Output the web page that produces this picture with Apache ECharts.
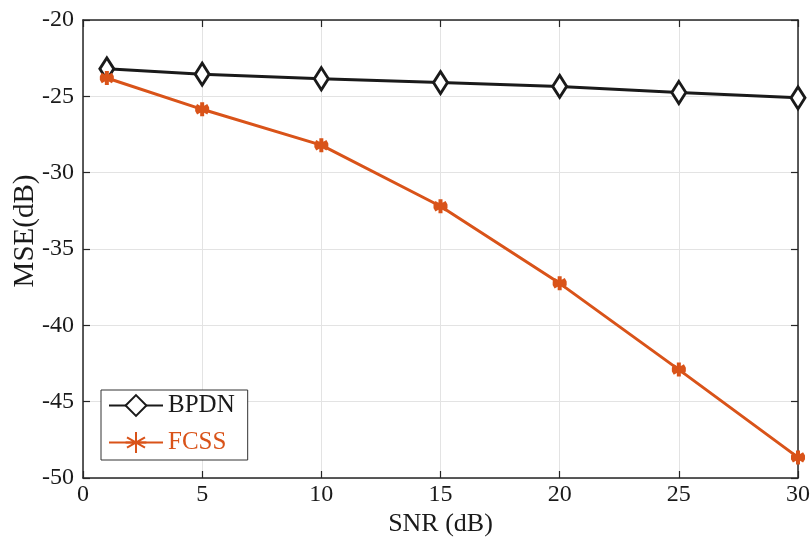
<!DOCTYPE html>
<html>
<head>
<meta charset="utf-8">
<script src="https://cdn.jsdelivr.net/npm/echarts@6/dist/echarts.min.js"></script>
<style>html,body{margin:0;padding:0;background:#fff;}#c{width:812px;height:543px;}</style>
</head>
<body>
<div id="c"></div>
<script>
const snr = [1, 5, 10, 15, 20, 25, 30];
const bpdn = [-23.2, -23.55, -23.85, -24.1, -24.35, -24.75, -25.1];
const fcss = [-23.8, -25.85, -28.2, -32.2, -37.25, -42.9, -48.65];
const xTicks = [0, 5, 10, 15, 20, 25, 30];
const yTicks = [-50, -45, -40, -35, -30, -25, -20];

const font = '"Liberation Serif", "Times New Roman", serif';
const axisCol = '#262626';
const asterisk = 'path://M0,-10L0,10M-8.66,-5L8.66,5M-8.66,5L8.66,-5M-10,0L10,0';

const chart = echarts.init(document.getElementById('c'), null, {renderer: 'canvas'});
const baseX = {
  type: 'value', min: xTicks[0], max: xTicks[xTicks.length - 1], interval: 5,
  axisLine: {show: true, onZero: false, lineStyle: {color: axisCol, width: 1.5}},
  axisTick: {show: true, inside: true, length: 7, lineStyle: {color: axisCol, width: 1.2}},
  splitLine: {show: false}
};
const baseY = {
  type: 'value', min: yTicks[0], max: yTicks[yTicks.length - 1], interval: 5,
  axisLine: {show: true, onZero: false, lineStyle: {color: axisCol, width: 1.5}},
  axisTick: {show: true, inside: true, length: 7, lineStyle: {color: axisCol, width: 1.2}},
  splitLine: {show: false}
};
chart.setOption({
  animation: false,
  backgroundColor: '#fff',
  grid: {left: 83, right: 14, top: 20, bottom: 65, containLabel: false, outerBoundsMode: 'none'},
  legend: {
    left: 101, top: 390, orient: 'vertical',
    backgroundColor: '#fff', borderColor: '#333', borderWidth: 1,
    padding: [3, 13, 5, 7], itemGap: 12, itemWidth: 54, itemHeight: 26,
    textStyle: {fontFamily: font, fontSize: 25, padding: [0, 0, 0, 0]},
    data: [
      {name: 'BPDN', textStyle: {color: '#1a1a1a'}},
      {name: 'FCSS', textStyle: {color: '#D95319'}}
    ]
  },
  xAxis: [
    Object.assign({}, baseX, {
      position: 'bottom',
      name: 'SNR (dB)', nameLocation: 'middle', nameGap: 33, nameMoveOverlap: false,
      nameTextStyle: {fontFamily: font, fontSize: 26, color: '#1a1a1a'},
      axisLabel: {fontFamily: font, fontSize: 24, color: '#1a1a1a', margin: 5},
      splitLine: {show: true, lineStyle: {color: '#e3e3e3', width: 1}}
    }),
    Object.assign({}, baseX, {position: 'top', axisLabel: {show: false}})
  ],
  yAxis: [
    Object.assign({}, baseY, {
      position: 'left',
      name: 'MSE(dB)', nameLocation: 'middle', nameGap: 43, nameMoveOverlap: false,
      nameTextStyle: {fontFamily: font, fontSize: 29, color: '#1a1a1a', padding: [0, 0, 0, 36]},
      axisLabel: {fontFamily: font, fontSize: 24, color: '#1a1a1a', margin: 9},
      splitLine: {show: true, lineStyle: {color: '#e3e3e3', width: 1}}
    }),
    Object.assign({}, baseY, {position: 'right', axisLabel: {show: false}})
  ],
  series: [
    {
      name: 'BPDN', type: 'line', xAxisIndex: 0, yAxisIndex: 0,
      data: snr.map((x, i) => [x, bpdn[i]]),
      symbol: 'diamond', symbolSize: [14, 22], showAllSymbol: true,
      lineStyle: {color: '#1a1a1a', width: 3},
      itemStyle: {color: '#fff', borderColor: '#1a1a1a', borderWidth: 3},
      z: 3
    },
    {
      name: 'FCSS', type: 'line', xAxisIndex: 0, yAxisIndex: 0,
      data: snr.map((x, i) => [x, fcss[i]]),
      symbol: asterisk, symbolSize: 14, showAllSymbol: true,
      lineStyle: {color: '#D95319', width: 3},
      itemStyle: {color: '#D95319', borderColor: '#D95319', borderWidth: 4},
      z: 4
    }
  ]
});
</script>
</body>
</html>
